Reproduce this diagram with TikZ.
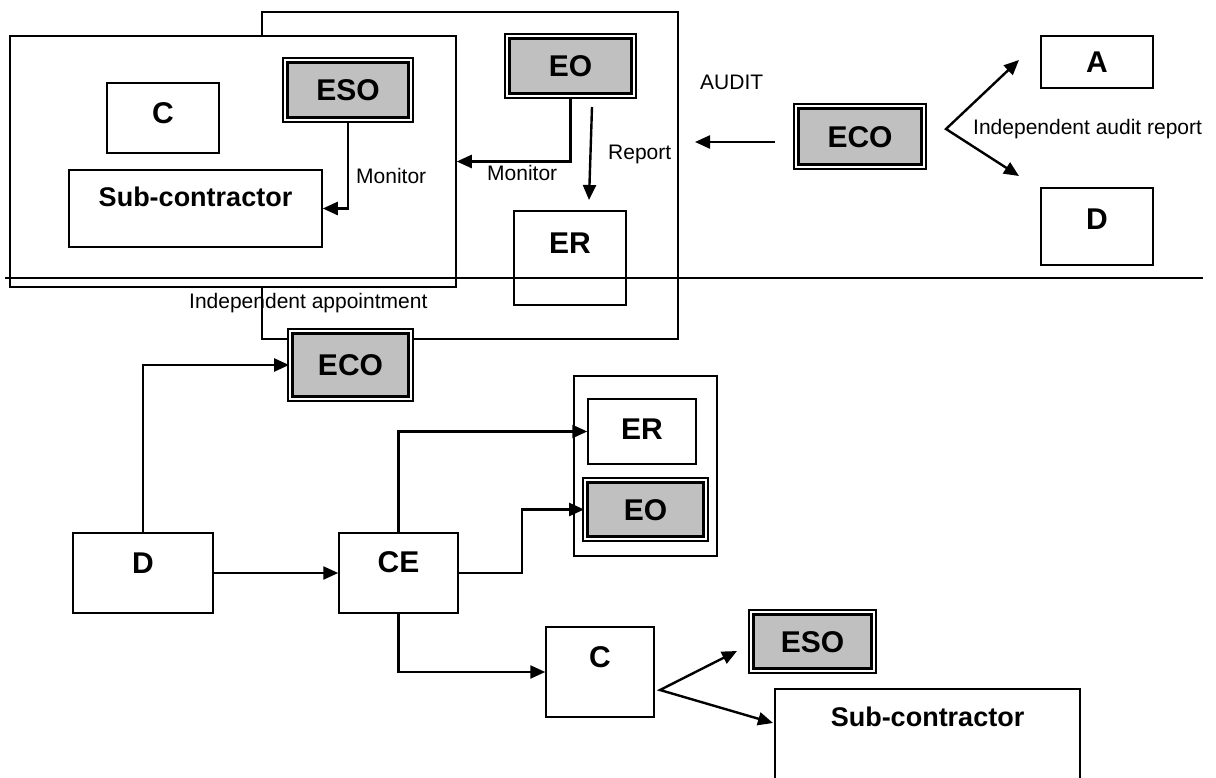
\documentclass[tikz,border=0pt]{standalone}
\usepackage{fontspec}
\setmainfont{Liberation Sans}
\usetikzlibrary{arrows.meta}
\definecolor{boxgray}{HTML}{C0C0C0}

\begin{document}
\begin{tikzpicture}[x=1pt, y=-1pt,
	box/.style={draw, line width=1.5pt, fill=white, inner sep=0pt, text height=21.5pt, text depth=0pt, font=\fontsize{30}{32}\selectfont\bfseries},
	subbox/.style={box, text height=19.3pt, font=\fontsize{27}{29}\selectfont\bfseries},
	dbox/.style={box, fill=boxgray, line width=2.4pt, double=white, double distance=2pt},
	lift/.style={text depth=#1},
	frame/.style={draw, line width=1.5pt, inner sep=0pt},
	lbl/.style={inner sep=0pt, anchor=base west, font=\fontsize{21}{23}\selectfont},
	arr/.style={line width=2.4pt, -{Triangle[length=15pt,width=13pt]}},
	arrs/.style={line width=2.4pt, {Triangle[length=15pt,width=13pt]}-{Triangle[length=15pt,width=13pt]}}]
	\useasboundingbox (0,0) rectangle (1216,778);
	\node[frame, minimum width=416pt, minimum height=327pt] (big) at (470,175.5) {};
	\node[frame, fill=white, minimum width=446pt, minimum height=251pt] (site) at (233,161.5) {};
	\node[box, minimum width=112pt, minimum height=70pt, lift=10pt] (cT) at (163,118) {C};
	\node[dbox, minimum width=125.4pt, minimum height=59.4pt] (esoT) at (348,90) {ESO};
	\node[subbox, minimum width=253pt, minimum height=77pt, lift=23pt] (subT) at (195.5,208.5) {Sub-contractor};
	\node[dbox, minimum width=126.4pt, minimum height=59.4pt] (eoT) at (570.5,66) {EO};
	\node[box, minimum width=112pt, minimum height=94pt, lift=30pt] (erT) at (570,258) {ER};
	\node[dbox, minimum width=127.4pt, minimum height=60.4pt] (ecoT) at (860,136.5) {ECO};
	\node[box, minimum width=112pt, minimum height=52pt] (aT) at (1097,62) {A};
	\node[box, minimum width=112pt, minimum height=77pt, lift=15pt] (dT) at (1097,226.5) {D};
	\node[dbox, minimum width=120.4pt, minimum height=67.4pt] (ecoB) at (350.5,365) {ECO};
	\node[box, minimum width=140pt, minimum height=80pt, lift=20pt] (dB) at (143,573) {D};
	\node[box, minimum width=119pt, minimum height=80pt, lift=22pt] (ce) at (398.5,573) {CE};
	\node[frame, minimum width=143pt, minimum height=180pt] (grp) at (645.5,466) {};
	\node[box, minimum width=108pt, minimum height=65pt, lift=5pt] (erB) at (642,431.5) {ER};
	\node[dbox, minimum width=120.4pt, minimum height=58.4pt] (eoB) at (645.5,509.5) {EO};
	\node[box, minimum width=108pt, minimum height=90pt, lift=30pt] (cB) at (600,672) {C};
	\node[dbox, minimum width=122.4pt, minimum height=58.4pt] (esoB) at (812.5,641.5) {ESO};
	\node[subbox, minimum width=305pt, minimum height=101pt, lift=45pt] (subB) at (927.5,739.5) {Sub-contractor};

	\coordinate (sepL) at (5,278);
	\coordinate (sepR) at (1203,278);
	\coordinate (repS) at (592,107);
	\coordinate (repE) at (589,200);
	\coordinate (audS) at (775,142);
	\coordinate (audE) at (695,142);
	\coordinate (toA) at (1019,60);
	\coordinate (toD) at (1019,176);
	\coordinate (fork) at (946,129);
	\coordinate (toESO) at (737,651);
	\coordinate (toSub) at (773,723);
	\coordinate (split) at (660,690);

	\draw[line width=1.6pt] (sepL) -- (sepR);
	\draw[arr] (esoT.south) |- (subT.east);
	\draw[arr] (eoT.south) |- (site.east);
	\draw[arr] (repS) -- (repE);
	\draw[arr] (audS) -- (audE);
	\draw[arrs] (toA) -- (fork) -- (toD);
	\draw[arr] (dB.north) |- (ecoB.west);
	\draw[arr] (dB.east) -- (ce.west);
	\draw[arr] (ce.north) |- (erB.west);
	\draw[arr] (ce.east) -- ++(63,0) |- (eoB.west);
	\draw[arr] (ce.south) |- (cB.west);
	\draw[arrs] (toESO) -- (split) -- (toSub);

	\node[lbl] (monS) at (356,183.5) {Monitor};
	\node[lbl] (monE) at (487,180.5) {Monitor};
	\node[lbl] (rep) at (608,159.5) {Report};
	\node[lbl] (aud) at (700,89.5) {AUDIT};
	\node[lbl] (iar) at (973,134.5) {Independent audit report};
	\node[lbl] (iap) at (189,308.5) {Independent appointment};
\end{tikzpicture}
\end{document}
